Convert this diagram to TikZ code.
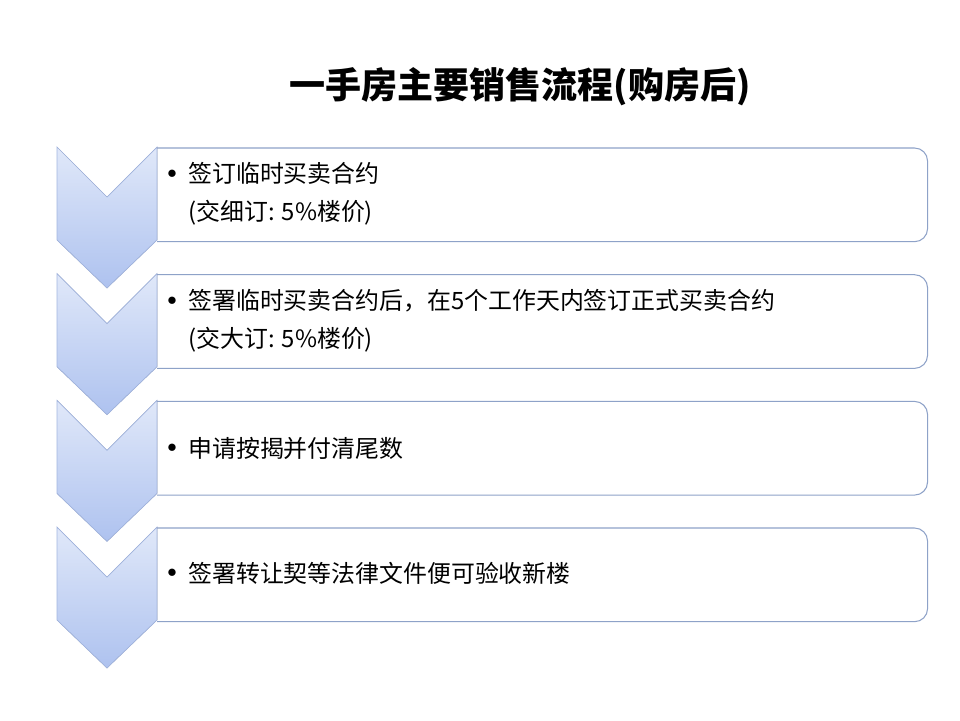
\documentclass[tikz,border=0pt]{standalone}
\usepackage{fontspec}
\usepackage{graphicx}
\setmainfont{Noto Sans CJK SC}
\usetikzlibrary{positioning}

\definecolor{chevtop}{HTML}{E0E8F9}
\definecolor{chevbot}{HTML}{AEC2EF}
\definecolor{chevline}{HTML}{A3B6E0}
\definecolor{boxline}{HTML}{8EA2C8}

\newcommand{\bul}{\llap{\raisebox{0.35ex}{\scalebox{0.75}{$\bullet$}}\hspace{6.5pt}}}

\begin{document}
\begin{tikzpicture}[
    x=0.02cm, y=-0.02cm,
    chev/.style = {top color=chevtop, bottom color=chevbot, draw=chevline, line width=0.4pt},
    stepbox/.style = {minimum width=15.4cm, minimum height=1.86cm, inner sep=0pt, anchor=north west},
    boxedge/.style = {draw=boxline, line width=0.6pt},
    txt/.style = {anchor=west, align=left, inner sep=0pt,
        font=\fontsize{13.6}{21.5}\selectfont},
    title/.style = {font=\fontsize{20.5}{24}\selectfont\bfseries}
     ]
  \useasboundingbox[fill=white] (0,0) rectangle (960,720);

  \node[title] (head) at (520,87) {一手房主要销售流程(购房后)};

  % the four steps, boxes first so the arrows sit on top
  \node[stepbox] (s1) at (157,148) {};
  \node[stepbox] (s2) at (157,274.7) {};
  \node[stepbox] (s3) at (157,401.4) {};
  \node[stepbox] (s4) at (157,528) {};
  \foreach \s in {s1,s2,s3,s4}
    \draw[boxedge] (\s.north west) [rounded corners=0.26cm] -- (\s.north east)
      -- (\s.south east) -- (\s.south west);

  \foreach \y in {147,273.7,400.4,527}
    \filldraw[chev] (57,\y) -- (107,\y+50) -- (157,\y) -- (157,\y+93)
      -- (107,\y+141) -- (57,\y+93) -- cycle;

  \node[txt] (t1) at (188,194) {\bul 签订临时买卖合约\\(交细订: 5\%楼价)};
  \node[txt] (t2) at (188,321) {\bul 签署临时买卖合约后，在5个工作天内签订正式买卖合约\\(交大订: 5\%楼价)};
  \node[txt] (t3) at (188,448) {\bul 申请按揭并付清尾数};
  \node[txt] (t4) at (188,573) {\bul 签署转让契等法律文件便可验收新楼};
\end{tikzpicture}
\end{document}
